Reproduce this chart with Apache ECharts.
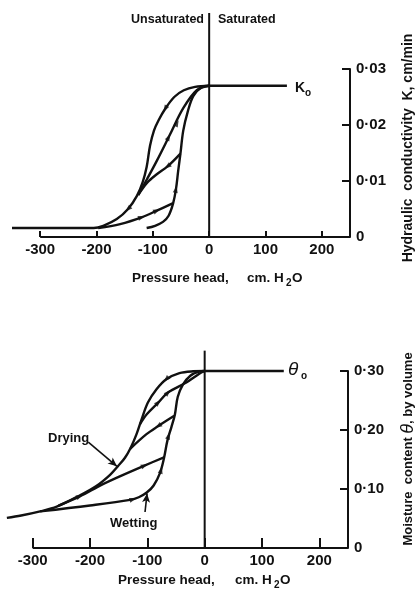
<!DOCTYPE html>
<html>
<head>
<meta charset="utf-8">
<script src="https://cdn.jsdelivr.net/npm/echarts@6/dist/echarts.min.js"></script>
<style>html,body{margin:0;padding:0;background:#fff}#c{width:417px;height:595px}</style>
</head>
<body>
<div id="c"></div>
<script>
// ---------- data (pressure head in cm H2O) ----------
const pressureTicks = [-300, -200, -100, 0, 100, 200];
const pressureAxisSpan = [-300, 250];
const kTickLabels = ['0', '0·01', '0·02', '0·03'];
const thetaTickLabels = ['0', '0·10', '0·20', '0·30'];
const K0 = 0.027;
const theta0 = 0.30;
const saturatedEnd = 138;

// Top panel: hydraulic conductivity K (cm/min)
const kDrying = [[-350,0.0016],[-205,0.0016],[-188,0.002],[-164,0.0032],[-144,0.005],[-128,0.0074],[-118,0.0098],[-111,0.0125],[-105,0.0163],[-98,0.019],[-90,0.0208],[-78,0.0229],[-62,0.025],[-45,0.0262],[-25,0.0268],[0,0.027]];
const kWetting = [[-111,0.0016],[-96,0.002],[-82,0.0027],[-72,0.0038],[-64,0.006],[-59,0.0085],[-55,0.0118],[-51,0.0149],[-46,0.019],[-38,0.0224],[-28,0.0252],[-14,0.0267],[0,0.027]];
const kScanUpper = [[-126,0.0075],[-110,0.0104],[-93,0.0136],[-70,0.0182],[-46,0.023],[-22,0.0262],[0,0.027]];
const kScanMiddle = [[-126,0.0075],[-110,0.0097],[-93,0.0112],[-74,0.0126],[-51,0.0149]];
const kScanLower = [[-197,0.0016],[-158,0.0023],[-120,0.0035],[-93,0.0047],[-65,0.006]];
const kArrowsDrying = [[-78,0.0229],[-144,0.005]];
const kArrowsUpper = [[-72,0.0178],[-57,0.0203]];
const kArrowsMiddle = [[-74,0.0126]];
const kArrowsWetting = [[-59,0.0085]];
const kArrowsLower = [[-120,0.0035],[-93,0.0047]];

// Bottom panel: moisture content theta (by volume)
const thDrying = [[-345,0.051],[-320,0.055],[-287,0.062],[-258,0.070],[-218,0.089],[-189,0.105],[-165,0.124],[-151,0.139],[-139,0.153],[-129,0.170],[-119,0.1925],[-110,0.218],[-99,0.2465],[-84,0.269],[-67,0.286],[-44,0.2964],[-20,0.2995],[0,0.300]];
const thWetting = [[-287,0.062],[-200,0.072],[-130,0.0815],[-115,0.086],[-101,0.094],[-89,0.106],[-78,0.127],[-71,0.152],[-65,0.182],[-58,0.205],[-52,0.226],[-47,0.256],[-38,0.277],[-25,0.292],[-10,0.299],[0,0.300]];
const thScanUpper = [[-113,0.2095],[-101,0.2266],[-81,0.2465],[-64,0.2635],[-32,0.2806],[-10,0.295],[0,0.300]];
const thScanMiddle = [[-130,0.168],[-102,0.1925],[-81,0.2066],[-53,0.224]];
const thScanLower = [[-255,0.072],[-218,0.0875],[-180,0.107],[-148,0.1215],[-105,0.1397],[-70,0.154]];
const thArrowsDrying = [[-67,0.286]];
const thArrowsUpper = [[-81,0.2465],[-64,0.2635]];
const thArrowsMiddle = [[-81,0.2066]];
const thArrowsLower = [[-218,0.0875],[-105,0.1397]];
const thArrowsWetting = [[-125,0.0825],[-76,0.132],[-63,0.19]];
const dryingPointer = [[-203,0.1796],[-153,0.1385]];
const wettingPointer = [[-104,0.061],[-100.5,0.0924]];
const kZeroLineTop = 0.040;
const thZeroLineTop = 0.3345;

// ---------- chart ----------
const FONT = '"Liberation Sans", Arial, sans-serif';
const INK = '#111';
const chart = echarts.init(document.getElementById('c'));

function curve(data, g, extra) {
  return Object.assign({type:'line', xAxisIndex:g, yAxisIndex:g, data:data, showSymbol:false, symbol:'none',
    smooth:0.35, clip:false, silent:true, z:3, animation:false,
    lineStyle:{color:INK, width:2.4}}, extra || {});
}
function straight(data, g, w) {
  return curve(data, g, {smooth:false, lineStyle:{color:INK, width:w}});
}
function arrowSeries(id, g) {
  return {id:id, type:'scatter', xAxisIndex:g, yAxisIndex:g, data:[], symbol:'triangle', symbolSize:[5,7],
    itemStyle:{color:INK}, z:6, silent:true, animation:false};
}
function xAxisCfg(g, tickLen, margin) {
  return {gridIndex:g, type:'value', min:-350, max:250,
    axisLine:{show:false},
    axisTick:{show:true, inside:true, length:tickLen, customValues:pressureTicks, lineStyle:{color:INK, width:2}},
    axisLabel:{color:INK, fontSize:15, fontWeight:'bold', fontFamily:FONT, margin:margin, customValues:pressureTicks,
      formatter: v => String(v)},
    splitLine:{show:false}};
}
function yAxisCfg(g, max, labels) {
  return {gridIndex:g, type:'value', position:'right', min:0, max:max, interval:max/3,
    axisLine:{show:true, onZero:false, lineStyle:{color:INK, width:2}},
    axisTick:{show:true, inside:true, length:8, lineStyle:{color:INK, width:2}},
    axisLabel:{color:INK, fontSize:15, fontWeight:'bold', fontFamily:FONT, margin:6,
      formatter: v => labels[Math.round(v / max * 3)]},
    splitLine:{show:false}};
}
function txt(text, x, y, size, align, extra) {
  return Object.assign({type:'text', x:x, y:y, silent:true,
    style:{text:text, fill:INK, font:'bold ' + size + 'px ' + FONT, textAlign:align || 'left', textVerticalAlign:'middle'}}, extra || {});
}

const option = {
  animation:false,
  backgroundColor:'#fff',
  grid:[{left:12, top:69, width:338, height:168}, {left:4, top:371, width:344, height:177}],
  xAxis:[xAxisCfg(0, 6, 5), xAxisCfg(1, 10, 5)],
  yAxis:[yAxisCfg(0, 0.03, kTickLabels), yAxisCfg(1, 0.30, thetaTickLabels)],
  series:[
    straight([[pressureAxisSpan[0],0],[pressureAxisSpan[1],0]], 0, 2),
    straight([[pressureAxisSpan[0],0],[pressureAxisSpan[1],0]], 1, 2),
    curve([[0,K0],[saturatedEnd,K0]], 0),
    straight([[0,0],[0,kZeroLineTop]], 0, 2),
    curve(kDrying, 0), curve(kWetting, 0), curve(kScanUpper, 0), curve(kScanMiddle, 0), curve(kScanLower, 0),
    curve([[0,theta0],[saturatedEnd,theta0]], 1),
    straight([[0,0],[0,thZeroLineTop]], 1, 2),
    curve(thDrying, 1, {markLine:{silent:true, symbol:['none','arrow'], symbolSize:[6,9], animation:false,
      label:{show:false}, lineStyle:{color:INK, width:1.6, type:'solid'},
      data:[[{coord:dryingPointer[0]},{coord:dryingPointer[1]}],[{coord:wettingPointer[0]},{coord:wettingPointer[1]}]]}}),
    curve(thWetting, 1), curve(thScanUpper, 1), curve(thScanMiddle, 1), curve(thScanLower, 1),
    arrowSeries('arrTop', 0), arrowSeries('arrBottom', 1)
  ],
  graphic:[
    txt('Unsaturated', 204, 20, 12.5, 'right'),
    txt('Saturated', 218, 20, 12.5, 'left'),
    txt('K', 295, 88, 14, 'left'),
    txt('o', 305, 93, 10, 'left'),
    {type:'text', x:288, y:370, silent:true, style:{text:'θ', fill:INK, font:'italic 19px ' + FONT, textAlign:'left', textVerticalAlign:'middle'}},
    txt('o', 301, 376, 10, 'left'),
    txt('Drying', 48, 438, 13, 'left'),
    txt('Wetting', 110, 523, 13, 'left'),
    txt('Pressure head,', 132, 278, 13.5, 'left'),
    txt('cm. H', 247, 278, 13.5, 'left'),
    txt('2', 286, 283, 10, 'left'),
    txt('O', 292, 278, 13.5, 'left'),
    txt('Pressure head,', 118, 580, 13.5, 'left'),
    txt('cm. H', 235, 580, 13.5, 'left'),
    txt('2', 274, 585, 10, 'left'),
    txt('O', 280, 580, 13.5, 'left'),
    {type:'text', x:408, y:148, rotation:Math.PI/2, silent:true,
      style:{text:'Hydraulic  conductivity  K, cm/min', fill:INK, font:'bold 14px ' + FONT, textAlign:'center', textVerticalAlign:'middle'}},
    {type:'text', x:408, y:449, rotation:Math.PI/2, silent:true,
      style:{text:'{a|Moisture  content }{t|θ}{a|, by volume}', textAlign:'center', textVerticalAlign:'middle',
        rich:{a:{fill:INK, font:'bold 13px ' + FONT}, t:{fill:INK, font:'italic 18px ' + FONT}}}}
  ]
};
chart.setOption(option);

function angleOn(g, data, pt, forward) {
  let i = 0;
  while (i < data.length - 2 && data[i + 1][0] < pt[0]) i++;
  const a = chart.convertToPixel({gridIndex:g}, data[i]);
  const b = chart.convertToPixel({gridIndex:g}, data[i + 1]);
  let dx = b[0] - a[0], dy = b[1] - a[1];
  if (!forward) { dx = -dx; dy = -dy; }
  return Math.atan2(-dx, -dy) * 180 / Math.PI;
}
function arrows(g, groups) {
  const out = [];
  groups.forEach(([data, pts, fwd]) => pts.forEach(p => out.push({value:p, symbolRotate:angleOn(g, data, p, fwd)})));
  return out;
}
chart.setOption({series:[
  {id:'arrTop', data:arrows(0, [[kDrying,kArrowsDrying,false],[kScanUpper,kArrowsUpper,true],[kScanMiddle,kArrowsMiddle,false],[kWetting,kArrowsWetting,true],[kScanLower,kArrowsLower,true]])},
  {id:'arrBottom', data:arrows(1, [[thDrying,thArrowsDrying,false],[thScanUpper,thArrowsUpper,true],[thScanMiddle,thArrowsMiddle,false],[thScanLower,thArrowsLower,true],[thWetting,thArrowsWetting,true]])}
]});
</script>
</body>
</html>
